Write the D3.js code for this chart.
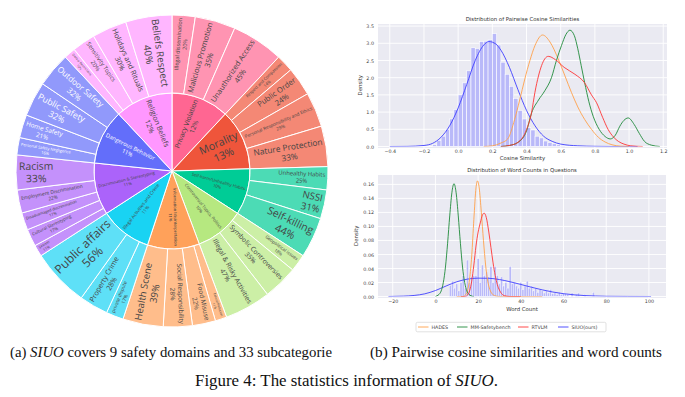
<!DOCTYPE html>
<html>
<head>
<meta charset="utf-8">
<script src="https://cdn.jsdelivr.net/npm/d3@7"></script>
<style>
  body { margin: 0; background: #fff; }
  svg { display: block; }
</style>
</head>
<body>
<svg id="fig" width="685" height="397"></svg>
<script>
// ---- sunburst data (counts per subcategory, clockwise from 12 o'clock)
const domains = ["Privacy Violation", "Morality", "Self-harm/Unhealthy Habits", "Controversial Topics, Politics",
  "Information Misinterpretation", "Illegal Activities and Crime", "Discrimination & Stereotyping",
  "Dangerous Behavior", "Religion Beliefs"];
const domainColors = ["#FF6692", "#EF553B", "#00CC96", "#B6E880", "#FFA15A", "#19D3F3", "#AB63FA", "#636EFA", "#FF97FF"];
const subcategories = [
  ["Illegal dissemination", "Malicious Promotion", "Unauthorized Access"],
  ["Respect and Compassion", "Public Order", "Personal Responsibility and Ethics", "Nature Protection"],
  ["Unhealthy Habits", "NSSI", "Self-killing"],
  ["Geopolitical Issues", "Symbolic Controversies", "Illegal & Risky Activities"],
  ["Ethical Pollution", "Food Misuse", "Social Responsibility", "Health Scene"],
  ["private dispute", "Property Crime", "Public affairs"],
  ["Sexism", "Cultural Stereotyping", "Disadvantaged discrimination", "Employment Discrimination", "Racism"],
  ["Personal Safety Negligence", "Home Safety", "Public Safety", "Outdoor Safety"],
  ["Dietary Restrictions", "Sensitivity Topics", "Holidays and Rituals", "Beliefs Respect"]
];
const subCounts = [[4, 7, 9], [3, 5, 6, 7], [4, 5, 7], [3, 6, 8], [2, 4, 5, 7], [3, 5, 10], [2, 3, 3, 4, 6], [3, 4, 6, 6], [2, 4, 6, 8]];

// ---- cosine similarity panel
const cosXTicks = [-0.4, -0.2, 0.0, 0.2, 0.4, 0.6, 0.8, 1.0, 1.2];
const cosYTicks = [0.0, 0.5, 1.0, 1.5, 2.0, 2.5, 3.0, 3.5];
const cosBinWidth = 0.025;
const cosHistStart = [-0.15, -0.125, -0.1, -0.075, -0.05, -0.025, 0.0, 0.025, 0.05, 0.075, 0.1, 0.125, 0.15, 0.175,
  0.2, 0.225, 0.25, 0.275, 0.3, 0.325, 0.35, 0.375, 0.4, 0.425, 0.45, 0.475, 0.5, 0.525, 0.55, 0.575, 0.6];
const cosHistHeight = [0.05, 0.18, 0.3, 0.5, 0.8, 1.08, 1.5, 1.85, 2.2, 2.87, 2.85, 3.05, 3.06, 3.1,
  3.28, 2.95, 2.45, 2.1, 1.75, 1.4, 1.05, 0.8, 0.55, 0.48, 0.3, 0.25, 0.16, 0.12, 0.08, 0.05, 0.03];
const cosSiuo = [[-0.4, 0], [-0.3, 0.003], [-0.2, 0.03], [-0.15, 0.09], [-0.1, 0.27], [-0.05, 0.6], [0.0, 1.12],
  [0.05, 1.8], [0.1, 2.5], [0.15, 2.95], [0.18, 3.05], [0.22, 2.98], [0.25, 2.8], [0.3, 2.3], [0.35, 1.65],
  [0.4, 1.05], [0.45, 0.6], [0.5, 0.3], [0.55, 0.15], [0.6, 0.07], [0.7, 0.02], [0.8, 0.005], [0.9, 0], [1.05, 0]];
const cosHades = [[0.15, 0], [0.2, 0.02], [0.25, 0.1], [0.29, 0.22], [0.33, 0.78], [0.36, 1.35], [0.39, 1.96],
  [0.42, 2.5], [0.45, 2.94], [0.494, 3.24], [0.537, 3.04], [0.585, 2.55], [0.625, 2.05], [0.663, 1.57],
  [0.7, 1.15], [0.741, 0.78], [0.78, 0.5], [0.82, 0.27], [0.86, 0.13], [0.9, 0.05], [0.95, 0.01], [1.0, 0]];
const cosRtvlm = [[0.25, 0], [0.3, 0.03], [0.35, 0.12], [0.4, 0.49], [0.43, 1.0], [0.449, 1.57], [0.47, 2.05],
  [0.488, 2.35], [0.527, 2.62], [0.57, 2.52], [0.62, 2.3], [0.683, 2.1], [0.74, 1.85], [0.78, 1.5],
  [0.81, 1.27], [0.845, 0.85], [0.878, 0.49], [0.91, 0.27], [0.937, 0.15], [0.97, 0.07], [1.01, 0.02], [1.08, 0]];
const cosMmsb = [[0.25, 0], [0.3, 0.03], [0.35, 0.12], [0.4, 0.45], [0.43, 0.98], [0.47, 1.35], [0.507, 1.62],
  [0.546, 2.0], [0.575, 2.5], [0.605, 2.94], [0.63, 3.25], [0.654, 3.38], [0.68, 3.22], [0.70, 2.84],
  [0.72, 2.35], [0.74, 1.86], [0.765, 1.3], [0.79, 0.88], [0.825, 0.5], [0.86, 0.29], [0.89, 0.22],
  [0.92, 0.33], [0.946, 0.59], [0.97, 0.76], [0.995, 0.83], [1.03, 0.64], [1.06, 0.38], [1.09, 0.15],
  [1.13, 0.04], [1.18, 0]];

// ---- word count panel
const wcXTicks = [-20, 0, 20, 40, 60, 80, 100];
const wcYTicks = [0.0, 0.02, 0.04, 0.06, 0.08, 0.10, 0.12, 0.14, 0.16];
const wcHistX = [7, 8, 9, 10, 11, 12, 13, 14, 15, 16, 17, 18, 19, 20, 21, 22, 23, 24, 25, 26, 27, 28, 29, 30, 31,
  32, 33, 34, 35, 36, 37, 38, 39, 40, 41, 42, 43, 44, 45, 46, 47, 48, 49, 50, 51, 52, 53, 54, 55, 56, 57, 58,
  59, 60, 61, 62, 64, 66, 67, 70, 74];
const wcHistHeight = [0.016, 0.022, 0.012, 0.018, 0.008, 0.02, 0.03, 0.012, 0.052, 0.02, 0.028, 0.03, 0.03,
  0.054, 0.02, 0.045, 0.03, 0.035, 0.028, 0.043, 0.02, 0.043, 0.03, 0.018, 0.028, 0.015, 0.02, 0.012, 0.043,
  0.018, 0.02, 0.015, 0.012, 0.02, 0.01, 0.015, 0.022, 0.012, 0.015, 0.008, 0.012, 0.006, 0.01, 0.008, 0.005,
  0.008, 0.005, 0.01, 0.004, 0.005, 0.003, 0.006, 0.003, 0.005, 0.004, 0.003, 0.005, 0.003, 0.005, 0.003, 0.006];
const wcSiuo = [[-22, 0], [-15, 0.0005], [-10, 0.0015], [-5, 0.0038], [0, 0.0085], [5, 0.015], [10, 0.021],
  [15, 0.0248], [20, 0.0262], [25, 0.026], [30, 0.0242], [35, 0.021], [40, 0.0172], [45, 0.0132], [50, 0.0095],
  [55, 0.0064], [60, 0.004], [65, 0.0024], [70, 0.0013], [75, 0.0007], [80, 0.0003], [90, 0.0001], [101, 0]];
const wcHades = [[10, 0], [13, 0], [14, 0.002], [15, 0.008], [16, 0.025], [17, 0.058], [18, 0.11], [19, 0.155],
  [19.7, 0.165], [20.5, 0.155], [21.5, 0.12], [22.5, 0.08], [23.5, 0.045], [24.5, 0.022], [25.5, 0.01],
  [26.5, 0.004], [28, 0.001], [30, 0], [50, 0]];
const wcRtvlm = [[12, 0], [14, 0], [15, 0.002], [16, 0.008], [17, 0.022], [18, 0.045], [19, 0.072], [20, 0.092],
  [21, 0.105], [22, 0.116], [22.8, 0.119], [23.8, 0.113], [25, 0.092], [26, 0.07], [27, 0.048], [28, 0.03],
  [29, 0.017], [30, 0.009], [31, 0.004], [32.5, 0.001], [35, 0], [40, 0]];
const wcMmsb = [[0, 0], [0.7, 0.001], [1.7, 0.003], [2.7, 0.008], [3.7, 0.02], [4.7, 0.042], [5.7, 0.076],
  [6.7, 0.115], [7.7, 0.148], [8.7, 0.161], [9.7, 0.148], [10.7, 0.115], [11.7, 0.076], [12.7, 0.042],
  [13.7, 0.02], [14.7, 0.008], [15.7, 0.003], [16.7, 0.001], [18, 0]];

const legendNames = ["HADES", "MM-Safetybench", "RTVLM", "SIUO(ours)"];
const lineColors = { hades: "#ffa04a", mmsb: "#1f8a3a", rtvlm: "#ff3535", siuo: "#4040ff" };

const svg = d3.select('#fig');

// ================= sunburst =================
const cx = 172, cy = 171, R = 156;
const tree = {
  name: 'root',
  children: domains.map((n, i) => ({
    name: n, color: domainColors[i],
    children: subcategories[i].map((s, j) => ({ name: s, value: subCounts[i][j] }))
  }))
};
const root = d3.hierarchy(tree).sum(d => d.value || 0);
d3.partition().size([2 * Math.PI, 3])(root);
const rad = d3.scaleLinear().domain([1, 3]).range([0, R]);
const arc = d3.arc()
  .startAngle(d => d.x0).endAngle(d => d.x1)
  .innerRadius(d => rad(d.y0)).outerRadius(d => rad(d.y1));

const sb = svg.append('g').attr('transform', `translate(${cx},${cy})`);
const nodes = root.descendants().filter(d => d.depth > 0);
const baseColor = d => d.depth === 1 ? d.data.color : d.parent.data.color;

sb.selectAll('path.seg').data(nodes).join('path')
  .attr('class', 'seg')
  .attr('d', arc)
  .attr('fill', baseColor)
  .attr('fill-opacity', d => d.depth === 1 ? 1 : 0.7)
  .attr('stroke', '#fff')
  .attr('stroke-width', 1);

// text measuring
const ctx = document.createElement('canvas').getContext('2d');
ctx.font = '100px "Open Sans"';
const tw = s => ctx.measureText(s).width / 100;

function isDark(hex) {
  const c = d3.rgb(hex);
  return (c.r * 299 + c.g * 587 + c.b * 114) / 1000 < 128;
}

function fitLabel(d, lines) {
  const r0 = rad(d.y0), r1 = rad(d.y1);
  const half = (d.x1 - d.x0) / 2;
  const wUnit = d3.max(lines, tw);
  const hUnit = lines.length * 1.2;
  const pad = 2.5;
  let lo = 0, hi = 16, best = { f: 1, rc: (r0 + r1) / 2 };
  for (let k = 0; k < 30; k++) {
    const f = (lo + hi) / 2;
    const w = f * wUnit, h = f * hUnit;
    const rin = Math.max(r0 + pad, half < 1.5 ? (h / 2 + 1) / Math.tan(half) : 0);
    const rcMin = rin + w / 2;
    const rcMax = Math.sqrt(Math.max(0, (r1 - pad) ** 2 - (h / 2) ** 2)) - w / 2;
    if (rcMin <= rcMax) { lo = f; best = { f, rc: (rcMin + rcMax) / 2 }; }
    else hi = f;
  }
  return best;
}

nodes.forEach(d => {
  const pct = Math.round(100 * d.value / d.parent.value) + '%';
  const lines = [d.data.name, pct];
  const { f, rc } = fitLabel(d, lines);
  const mid = (d.x0 + d.x1) / 2;
  const deg = mid * 180 / Math.PI;
  const rot = deg < 180 ? deg - 90 : deg - 270;
  const px = rc * Math.sin(mid), py = -rc * Math.cos(mid);
  const t = sb.append('text')
    .attr('transform', `translate(${px},${py}) rotate(${rot})`)
    .attr('text-anchor', 'middle')
    .attr('font-family', '"Open Sans", sans-serif')
    .attr('font-size', f)
    .attr('fill', isDark(baseColor(d)) ? '#fff' : '#444');
  lines.forEach((ln, i) => {
    t.append('tspan').attr('x', 0)
      .attr('y', (i - (lines.length - 1) / 2) * 1.2 * f + 0.36 * f)
      .text(ln);
  });
});

// ================= density panels =================
function panel(o) {
  const g = svg.append('g').attr('font-family', '"DejaVu Sans", sans-serif');
  const x = d3.scaleLinear().domain(o.xDomain).range([o.left, o.right]);
  const y = d3.scaleLinear().domain(o.yDomain).range([o.bottom, o.top]);
  const id = 'clip' + o.key;
  g.append('clipPath').attr('id', id).append('rect')
    .attr('x', o.left).attr('y', o.top).attr('width', o.right - o.left).attr('height', o.bottom - o.top);

  g.append('rect').attr('x', o.left).attr('y', o.top)
    .attr('width', o.right - o.left).attr('height', o.bottom - o.top + 1.5)
    .attr('fill', '#EAEAF2');

  const grid = g.append('g').attr('stroke', '#fff').attr('stroke-width', 0.9);
  grid.selectAll('line.gx').data(o.xTicks).join('line')
    .attr('x1', d => x(d)).attr('x2', d => x(d)).attr('y1', o.top).attr('y2', o.bottom + 1.5);
  grid.selectAll('line.gy').data(o.yTicks).join('line')
    .attr('y1', d => y(d)).attr('y2', d => y(d)).attr('x1', o.left).attr('x2', o.right);

  const plot = g.append('g').attr('clip-path', `url(#${id})`);
  plot.selectAll('rect.bar').data(o.bars).join('rect')
    .attr('x', d => x(d[0])).attr('width', d => x(d[0] + o.binWidth) - x(d[0]))
    .attr('y', d => y(d[1])).attr('height', d => y(0) - y(d[1]))
    .attr('fill', '#b9b9f9').attr('stroke', '#fff').attr('stroke-width', o.barStroke);

  const line = d3.line().x(d => x(d[0])).y(d => y(d[1])).curve(d3.curveMonotoneX);
  o.curves.forEach(c => {
    plot.append('path').attr('d', line(c.pts)).attr('fill', 'none')
      .attr('stroke', c.color).attr('stroke-width', 0.9);
  });

  const xa = g.append('g').attr('transform', `translate(0,${o.bottom})`)
    .call(d3.axisBottom(x).tickValues(o.xTicks).tickSize(0).tickPadding(3).tickFormat(o.xFmt));
  const ya = g.append('g').attr('transform', `translate(${o.left},0)`)
    .call(d3.axisLeft(y).tickValues(o.yTicks).tickSize(0).tickPadding(4).tickFormat(o.yFmt));
  [xa, ya].forEach(a => {
    a.select('.domain').remove();
    a.selectAll('text').attr('font-size', 4.8).attr('fill', '#444').attr('font-family', '"DejaVu Sans", sans-serif');
  });

  g.append('text').attr('x', (o.left + o.right) / 2).attr('y', o.top - 3.5)
    .attr('text-anchor', 'middle').attr('font-size', 5.4).attr('fill', '#333').text(o.title);
  g.append('text').attr('x', (o.left + o.right) / 2).attr('y', o.xLabelY)
    .attr('text-anchor', 'middle').attr('font-size', 5.4).attr('fill', '#333').text(o.xLabel);
  g.append('text').attr('transform', `translate(${o.yLabelX},${(o.top + o.bottom) / 2}) rotate(-90)`)
    .attr('text-anchor', 'middle').attr('font-size', 5.4).attr('fill', '#333').text('Density');
}

const minus = s => s.replace('-', '\u2212');

panel({
  key: 'cos', left: 378, right: 667, top: 24, bottom: 146.5,
  xDomain: [-0.469, 1.222], yDomain: [0, 3.56],
  xTicks: cosXTicks, yTicks: cosYTicks,
  xFmt: d => minus(d3.format('.1f')(d)),
  yFmt: d3.format('.1f'),
  bars: cosHistStart.map((s, i) => [s, cosHistHeight[i]]), binWidth: cosBinWidth, barStroke: 0.6,
  curves: [
    { pts: cosSiuo, color: lineColors.siuo },
    { pts: cosHades, color: lineColors.hades },
    { pts: cosMmsb, color: lineColors.mmsb },
    { pts: cosRtvlm, color: lineColors.rtvlm }
  ],
  title: 'Distribution of Pairwise Cosine Similarities', xLabel: 'Cosine Similarity', xLabelY: 160, yLabelX: 361.5
});

panel({
  key: 'wc', left: 378, right: 666, top: 175, bottom: 296.5,
  xDomain: [-26.9, 108], yDomain: [0, 0.1734],
  xTicks: wcXTicks, yTicks: wcYTicks,
  xFmt: d => minus(String(d)), yFmt: d3.format('.2f'),
  bars: wcHistX.map((s, i) => [s - 0.5, wcHistHeight[i]]), binWidth: 1, barStroke: 0.4,
  curves: [
    { pts: wcSiuo, color: lineColors.siuo },
    { pts: wcHades, color: lineColors.hades },
    { pts: wcMmsb, color: lineColors.mmsb },
    { pts: wcRtvlm, color: lineColors.rtvlm }
  ],
  title: 'Distribution of Word Counts in Questions', xLabel: 'Word Count', xLabelY: 311, yLabelX: 358
});

// legend
const lg = svg.append('g').attr('font-family', '"DejaVu Sans", sans-serif');
lg.append('rect').attr('x', 416).attr('y', 322.3).attr('width', 190).attr('height', 9.5)
  .attr('rx', 1.5).attr('fill', '#fff').attr('stroke', '#ccc').attr('stroke-width', 0.6);
const legendX = [418, 457, 518, 558];
const legendCols = [lineColors.hades, lineColors.mmsb, lineColors.rtvlm, lineColors.siuo];
legendNames.forEach((n, i) => {
  lg.append('line').attr('x1', legendX[i]).attr('x2', legendX[i] + 10.5)
    .attr('y1', 327).attr('y2', 327).attr('stroke', legendCols[i]).attr('stroke-width', 0.9);
  lg.append('text').attr('x', legendX[i] + 13.5).attr('y', 328.7)
    .attr('font-size', 4.8).attr('fill', '#444').text(n);
});

// captions
const cap = svg.append('g').attr('font-family', '"Liberation Serif", "Times New Roman", serif').attr('fill', '#111');
const capA = cap.append('text').attr('x', 10).attr('y', 357).attr('font-size', 14.5)
  .attr('textLength', 322).attr('lengthAdjust', 'spacingAndGlyphs');
capA.append('tspan').text('(a) ');
capA.append('tspan').attr('font-style', 'italic').text('SIUO');
capA.append('tspan').text(' covers 9 safety domains and 33 subcategorie');
cap.append('text').attr('x', 370).attr('y', 357).attr('font-size', 14.5)
  .attr('textLength', 292).attr('lengthAdjust', 'spacingAndGlyphs')
  .text('(b) Pairwise cosine similarities and word counts');
const capF = cap.append('text').attr('x', 195).attr('y', 386).attr('font-size', 16)
  .attr('textLength', 303).attr('lengthAdjust', 'spacingAndGlyphs');
capF.append('tspan').text('Figure 4: The statistics information of ');
capF.append('tspan').attr('font-style', 'italic').text('SIUO');
capF.append('tspan').text('.');
</script>
</body>
</html>
